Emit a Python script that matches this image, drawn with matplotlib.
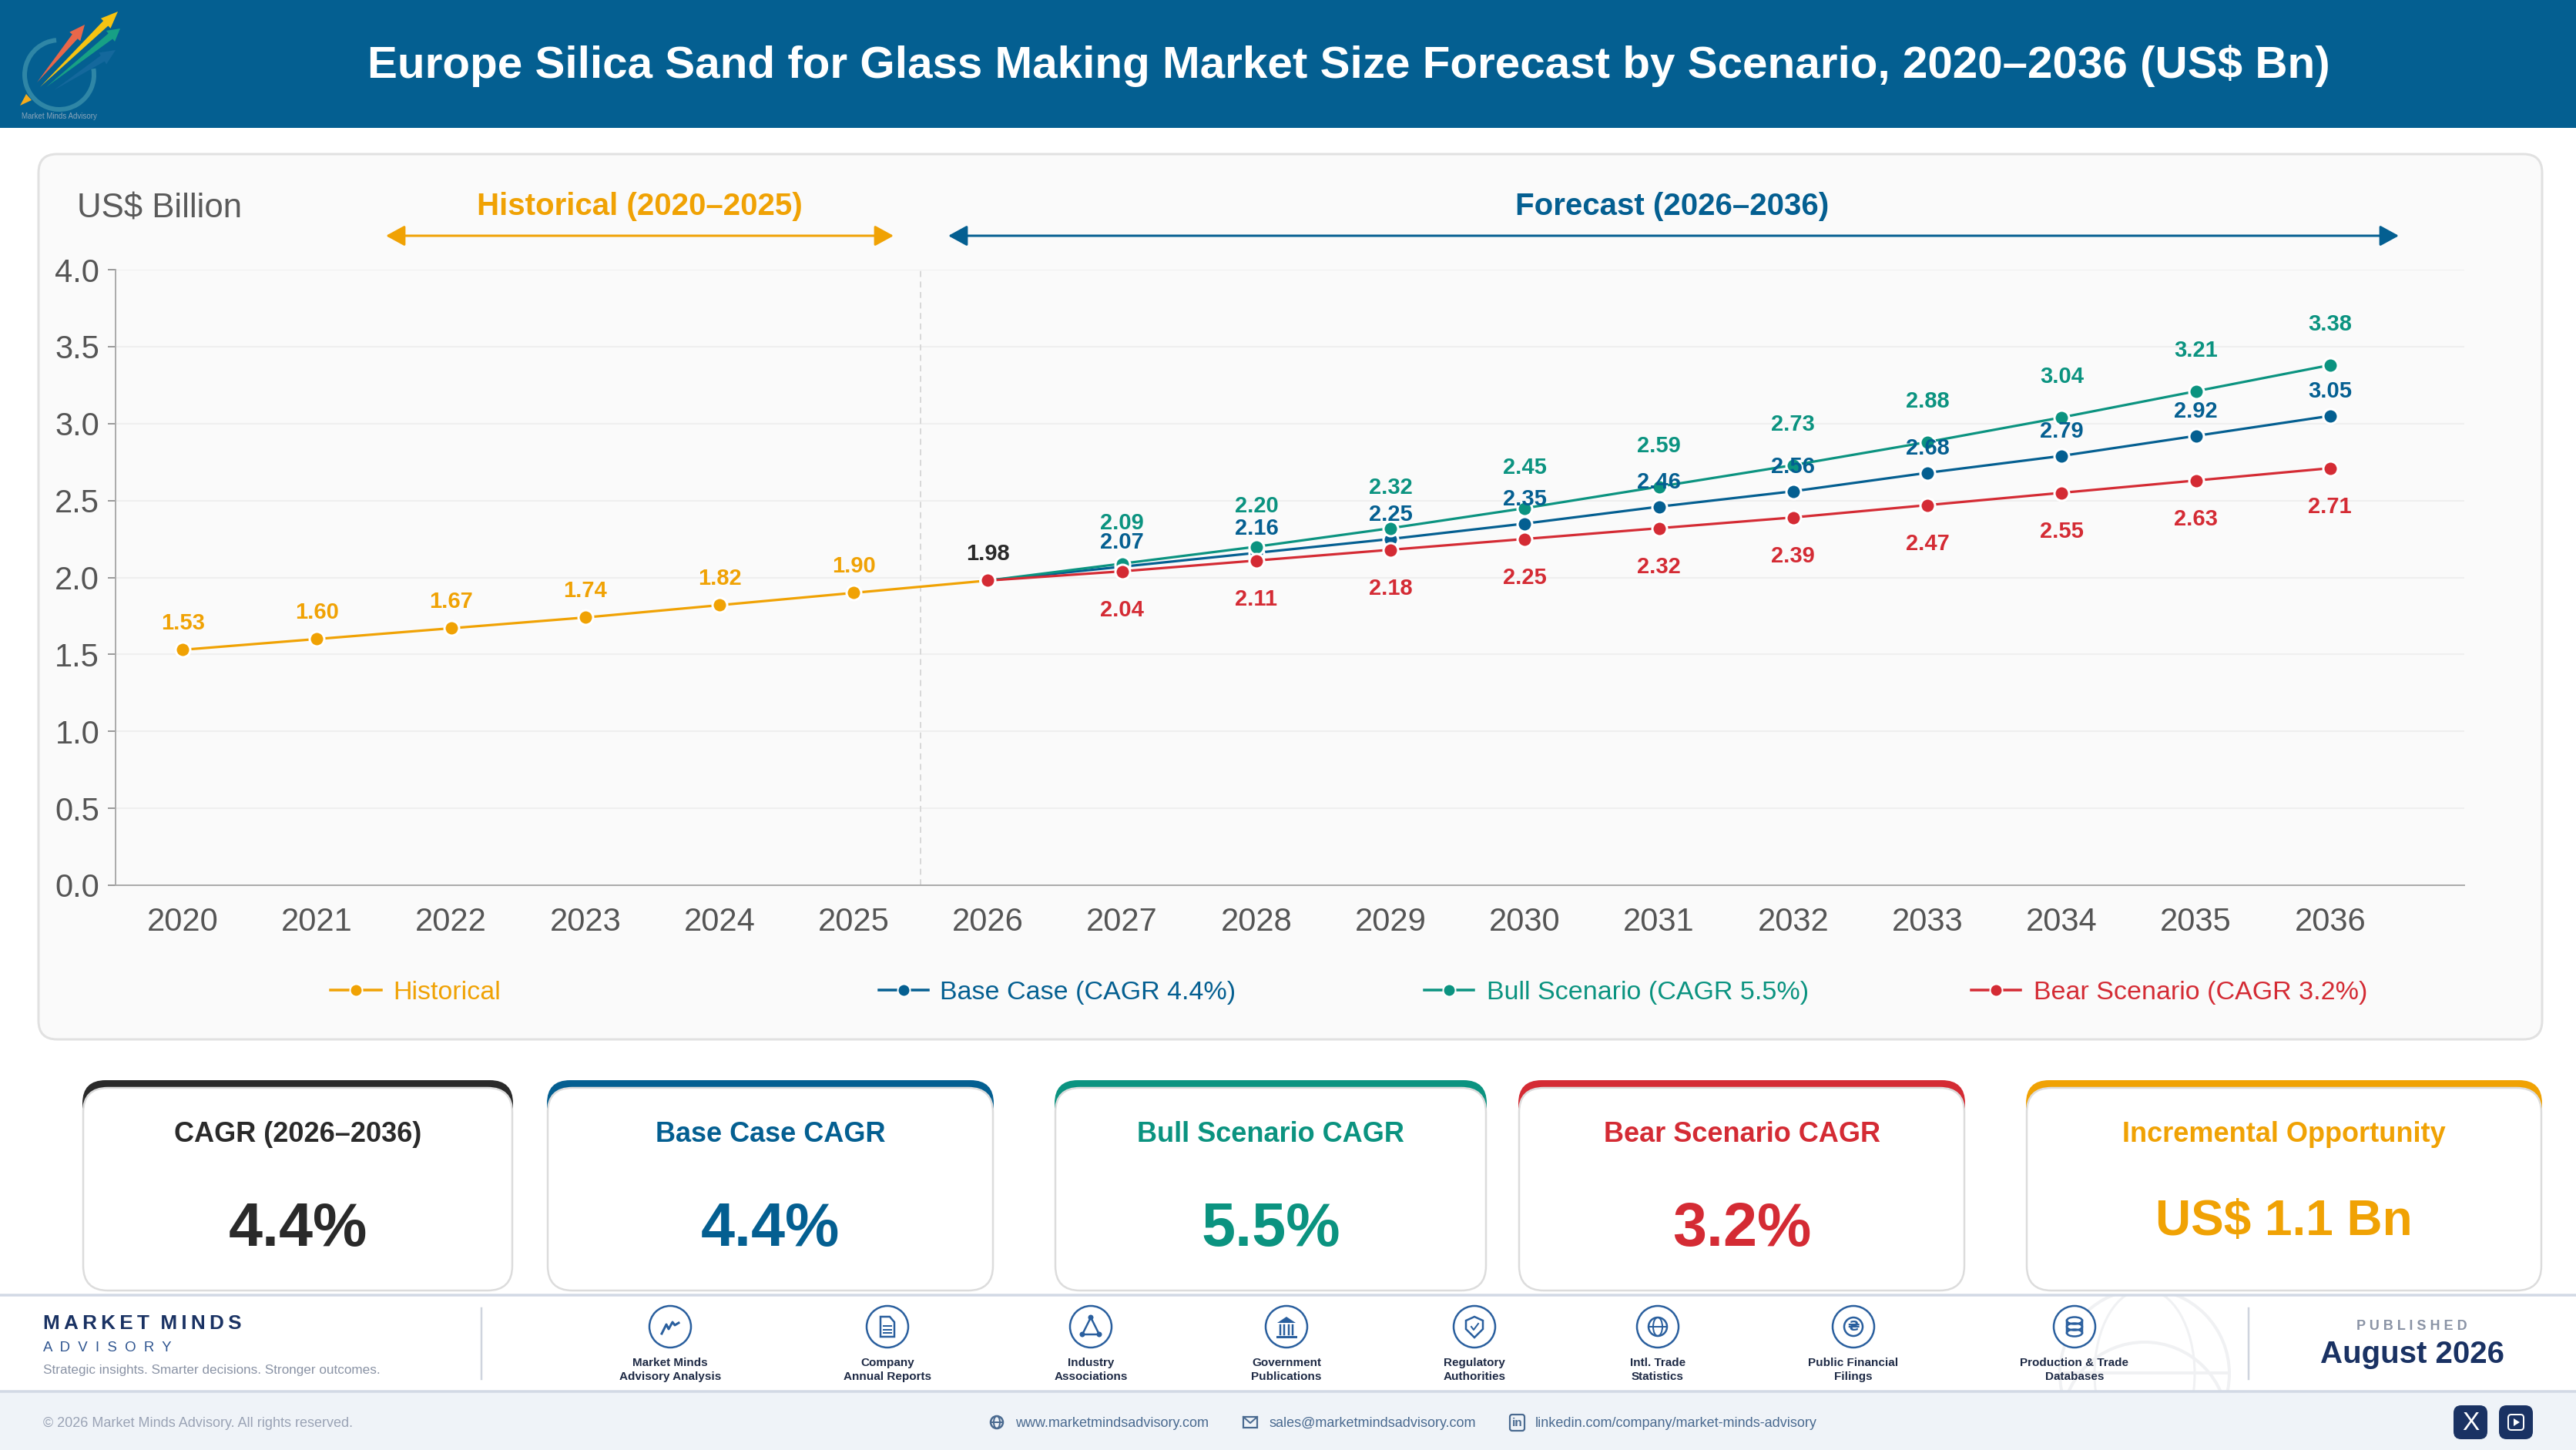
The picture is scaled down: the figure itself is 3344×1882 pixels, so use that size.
import matplotlib
matplotlib.use("Agg")
import numpy as np
import matplotlib.pyplot as plt
from matplotlib.patches import FancyBboxPatch, Circle, Polygon, Rectangle, Arc, Ellipse, FancyArrowPatch
from matplotlib.lines import Line2D

plt.rcParams['font.family'] = ['Liberation Sans', 'DejaVu Sans']

W, H = 3344, 1882

# data
years = [2020, 2021, 2022, 2023, 2024, 2025, 2026, 2027, 2028, 2029, 2030, 2031, 2032, 2033, 2034, 2035, 2036]
hist_vals = [1.53, 1.60, 1.67, 1.74, 1.82, 1.90, 1.98]
base_vals = [1.98, 2.07, 2.16, 2.25, 2.35, 2.46, 2.56, 2.68, 2.79, 2.92, 3.05]
bull_vals = [1.98, 2.09, 2.20, 2.32, 2.45, 2.59, 2.73, 2.88, 3.04, 3.21, 3.38]
bear_vals = [1.98, 2.04, 2.11, 2.18, 2.25, 2.32, 2.39, 2.47, 2.55, 2.63, 2.71]
y_ticks = [0.0, 0.5, 1.0, 1.5, 2.0, 2.5, 3.0, 3.5, 4.0]

card_labels = ["CAGR (2026–2036)", "Base Case CAGR", "Bull Scenario CAGR", "Bear Scenario CAGR", "Incremental Opportunity"]
card_values = ["4.4%", "4.4%", "5.5%", "3.2%", "US$ 1.1 Bn"]
source_labels = ["Market Minds\nAdvisory Analysis", "Company\nAnnual Reports", "Industry\nAssociations", "Government\nPublications",
                 "Regulatory\nAuthorities", "Intl. Trade\nStatistics", "Public Financial\nFilings", "Production & Trade\nDatabases"]

ORANGE = "#f0a204"
BLUE = "#045f91"
GREEN = "#0b9380"
RED = "#d42b34"
BLACK = "#2a2a2a"
NAVY = "#1a3263"
ICON = "#2a5f9e"

fig = plt.figure(figsize=(W / 100, H / 100), dpi=100, facecolor="white")

# page layer, in pixels
bg = fig.add_axes([0, 0, 1, 1])
bg.set_xlim(0, W)
bg.set_ylim(H, 0)
bg.axis("off")


def px(p):
    return p * 0.72


def rbox(x0, y0, x1, y1, r, fc, ec="none", lw=0, z=1):
    p = FancyBboxPatch((x0 + r, y0 + r), x1 - x0 - 2 * r, y1 - y0 - 2 * r, boxstyle="round,pad=%f,rounding_size=%f" % (r, r),
                       fc=fc, ec=ec, lw=lw, zorder=z)
    bg.add_patch(p)
    return p


def tapered(x0, y0, x1, y1, w, hw, hl, color, z=3):
    d = np.array([x1 - x0, y1 - y0], float)
    n = np.hypot(*d)
    d = d / n
    t = np.array([-d[1], d[0]])
    a = np.array([x0, y0], float)
    b = np.array([x1, y1], float)
    neck = b - d * hl
    pts = [a, neck + t * w / 2, neck + t * hw / 2, b, neck - t * hw / 2, neck - t * w / 2]
    bg.add_patch(Polygon(pts, closed=True, fc=color, ec="none", zorder=z))


# header
bg.add_patch(Rectangle((0, 0), W, 166, fc=BLUE, ec="none", zorder=1))
bg.text(1751, 85, "Europe Silica Sand for Glass Making Market Size Forecast by Scenario, 2020–2036 (US$ Bn)",
        fontsize=42, fontweight="bold", color="white", ha="center", va="center", zorder=3)

# logo
bg.add_patch(Arc((77, 97), 90, 90, theta1=-10, theta2=265, ec="#2f86a6", lw=px(6), zorder=2))
tapered(70, 117, 150, 65, 9, 18, 20, "#14689c")
tapered(60, 113, 156, 37, 9, 18, 16, "#17a085")
tapered(48, 107, 110, 32, 9, 18, 20, "#e8674a")
tapered(52, 113, 153, 15, 9, 18, 22, "#f6c312")
bg.add_patch(Polygon([(26, 137), (41, 130), (34, 122)], closed=True, fc="#f5ab1b", ec="none", zorder=3))
bg.text(77, 151, "Market Minds Advisory", fontsize=7, color="#8ba6bb", ha="center", va="center", zorder=3)

# chart panel
rbox(50, 200, 3300, 1349, 24, "#fafafa", "#e1e1e1", px(3))
bg.text(100, 271, "US$ Billion", fontsize=31.5, color="#5a5a5a", ha="left", va="center", zorder=3)
bg.text(830, 268, "Historical (2020–2025)", fontsize=29, fontweight="bold", color=ORANGE, ha="center", va="center", zorder=3)
bg.text(2171, 268, "Forecast (2026–2036)", fontsize=29, fontweight="bold", color=BLUE, ha="center", va="center", zorder=3)
for x0, x1, c in [(501, 1160, ORANGE), (1231, 3114, BLUE)]:
    bg.add_patch(FancyArrowPatch((x0, 306), (x1, 306), arrowstyle="<|-|>,head_length=%f,head_width=%f" % (11.5, 6.3), mutation_scale=1.3,
                                 shrinkA=0, shrinkB=0, color=c, lw=px(3), zorder=3))

# legend
legend_items = [(429, 495, 510, "Historical", ORANGE), (1141, 1205, 1220, "Base Case (CAGR 4.4%)", BLUE),
                (1849, 1913, 1930, "Bull Scenario (CAGR 5.5%)", GREEN), (2559, 2623, 2640, "Bear Scenario (CAGR 3.2%)", RED)]
for x0, x1, xt, s, c in legend_items:
    bg.add_line(Line2D([x0, x1], [1285, 1285], color=c, lw=px(3.5), zorder=3))
    bg.add_line(Line2D([(x0 + x1) / 2], [1285], color=c, marker="o", ms=px(16), mec="white", mew=px(2), zorder=4))
    bg.text(xt, 1297, s, fontsize=24.5, color=c, ha="left", va="baseline", zorder=3)

# cards
card_x = [(107, 666), (710, 1290), (1369, 1930), (1971, 2551), (2630, 3300)]
card_c = [BLACK, BLUE, GREEN, RED, ORANGE]
for i in range(5):
    x0, x1 = card_x[i]
    rbox(x0, 1402, x1, 1500, 30, card_c[i], z=2)
    rbox(x0 + 1, 1412, x1 - 1, 1675, 32, "white", "#dcdcdc", px(2.5), z=3)
    xc = (x0 + x1) / 2
    bg.text(xc, 1473, card_labels[i], fontsize=26, fontweight="bold", color=card_c[i], ha="center", va="center", zorder=4)
    if i < 4:
        bg.text(xc, 1596, card_values[i], fontsize=57, fontweight="bold", color=card_c[i], ha="center", va="center", zorder=4)
    else:
        bg.text(xc, 1586, card_values[i], fontsize=46, fontweight="bold", color=card_c[i], ha="center", va="center", zorder=4)

# footer
bg.add_patch(Rectangle((0, 1806), W, 76, fc="#eff3f8", ec="none", zorder=1))
clip = Rectangle((0, 1681), W, 125, transform=bg.transData)
for g in [Circle((2784, 1783), 110, fc="none", ec="#f0f1f3", lw=px(4), zorder=1),
          Ellipse((2784, 1783), 130, 220, fc="none", ec="#f0f1f3", lw=px(3), zorder=1),
          Circle((2784, 1850), 108, fc="none", ec="#f0f1f3", lw=px(4), zorder=1)]:
    bg.add_patch(g)
    g.set_clip_path(clip)
bg.add_line(Line2D([2674, 2894], [1782, 1782], color="#f0f1f3", lw=px(4), zorder=1))
for y in (1681, 1806):
    bg.add_line(Line2D([0, W], [y, y], color="#d2d9e5", lw=px(3.5), zorder=2))
for x in (625, 2919):
    bg.add_line(Line2D([x, x], [1698, 1790], color="#cfd4de", lw=px(2.5), zorder=2))

bg.text(56, 1718, "M\u2009A\u2009R\u2009K\u2009E\u2009T  M\u2009I\u2009N\u2009D\u2009S", fontsize=18.8, fontweight="bold", color=NAVY, ha="left", va="center", zorder=3)
bg.text(56, 1750, "A  D  V  I  S  O  R  Y", fontsize=13.4, color="#2f5590", ha="left", va="center", zorder=3)
bg.text(56, 1778, "Strategic insights. Smarter decisions. Stronger outcomes.", fontsize=12.3, color="#8a93a5", ha="left", va="center", zorder=3)
bg.text(3131, 1721, "P U B L I S H E D", fontsize=13, fontweight="bold", color="#8a93a5", ha="center", va="center", zorder=3)
bg.text(3131, 1758, "August 2026", fontsize=29, fontweight="bold", color=NAVY, ha="center", va="center", zorder=3)


def icon_chart(x, y):
    bg.add_line(Line2D([x - 11, x - 5, x - 2, x + 3, x + 6, x + 11], [y + 9, y - 3, y + 3, y - 6, y - 2, y - 5], color=ICON, lw=px(3), zorder=4))


def icon_doc(x, y):
    bg.add_patch(Polygon([(x - 9, y - 13), (x + 3, y - 13), (x + 9, y - 6), (x + 9, y + 13), (x - 9, y + 13)], closed=True, fc="none", ec=ICON, lw=px(2.5), zorder=4))
    for d in (-1, 4, 8):
        bg.add_line(Line2D([x - 5, x + 5], [y + d, y + d], color=ICON, lw=px(2), zorder=4))


def icon_tri(x, y):
    pts = [(x, y - 12), (x - 11, y + 10), (x + 11, y + 10)]
    bg.add_patch(Polygon(pts, closed=True, fc="none", ec=ICON, lw=px(2.5), zorder=4))
    for p in pts:
        bg.add_patch(Circle(p, 3.5, fc=ICON, ec="none", zorder=5))


def icon_bank(x, y):
    bg.add_patch(Polygon([(x - 12, y - 5), (x, y - 13), (x + 12, y - 5)], closed=True, fc=ICON, ec="none", zorder=4))
    for d in (-8, -3, 3, 8):
        bg.add_line(Line2D([x + d, x + d], [y - 2, y + 10], color=ICON, lw=px(2.5), zorder=4))
    bg.add_line(Line2D([x - 12, x + 12], [y + 13, y + 13], color=ICON, lw=px(3), zorder=4))


def icon_shield(x, y):
    bg.add_patch(Polygon([(x, y - 13), (x + 11, y - 8), (x + 11, y + 3), (x, y + 14), (x - 11, y + 3), (x - 11, y - 8)], closed=True, fc="none", ec=ICON, lw=px(2.5), zorder=4))
    bg.add_line(Line2D([x - 4, x - 1, x + 5], [y, y + 4, y - 4], color=ICON, lw=px(2), zorder=4))


def icon_globe(x, y, r=12, c=ICON):
    bg.add_patch(Circle((x, y), r, fc="none", ec=c, lw=px(2.5), zorder=4))
    bg.add_patch(Ellipse((x, y), r, 2 * r, fc="none", ec=c, lw=px(2), zorder=4))
    bg.add_line(Line2D([x - r, x + r], [y, y], color=c, lw=px(2), zorder=4))


def icon_coin(x, y):
    bg.add_patch(Circle((x, y), 12, fc="none", ec=ICON, lw=px(2.5), zorder=4))
    bg.text(x, y, "₴", fontsize=13, fontweight="bold", color=ICON, ha="center", va="center", zorder=4, family=["DejaVu Sans"])


def icon_db(x, y):
    for d in (-8, 0, 8):
        bg.add_patch(Ellipse((x, y + d), 20, 9, fc="none", ec=ICON, lw=px(2.5), zorder=4))
    bg.add_line(Line2D([x - 10, x - 10], [y - 8, y + 8], color=ICON, lw=px(2.5), zorder=4))
    bg.add_line(Line2D([x + 10, x + 10], [y - 8, y + 8], color=ICON, lw=px(2.5), zorder=4))


source_x = [870, 1152, 1416, 1670, 1914, 2152, 2406, 2693]
source_icons = [icon_chart, icon_doc, icon_tri, icon_bank, icon_shield, icon_globe, icon_coin, icon_db]
for x, s, ic in zip(source_x, source_labels, source_icons):
    bg.add_patch(Circle((x, 1722), 27, fc="white", ec=ICON, lw=px(2.5), zorder=3))
    ic(x, 1722)
    a, b = s.split("\n")
    bg.text(x, 1769, a, fontsize=11, fontweight="bold", color="#1e2a45", ha="center", va="center", zorder=3)
    bg.text(x, 1787, b, fontsize=11, fontweight="bold", color="#1e2a45", ha="center", va="center", zorder=3)

# bottom strip
LINK = "#4a6a90"
bg.text(56, 1848, "© 2026 Market Minds Advisory. All rights reserved.", fontsize=13, color="#9aa3b5", ha="left", va="center", zorder=3)
icon_globe(1294, 1846, 8, LINK)
bg.text(1318, 1848, "www.marketmindsadvisory.com", fontsize=13, color=LINK, ha="left", va="center", zorder=3)
bg.add_patch(Rectangle((1614, 1839), 18, 14, fc="none", ec=LINK, lw=px(2.2), zorder=4))
bg.add_line(Line2D([1614, 1623, 1632], [1839, 1847, 1839], color=LINK, lw=px(2), zorder=4))
bg.text(1647, 1848, "sales@marketmindsadvisory.com", fontsize=13, color=LINK, ha="left", va="center", zorder=3)
rbox(1960, 1836, 1979, 1857, 3, "none", LINK, px(2.2), z=4)
bg.text(1969.5, 1847, "in", fontsize=11, fontweight="bold", color=LINK, ha="center", va="center", zorder=5)
bg.text(1993, 1848, "linkedin.com/company/market-minds-advisory", fontsize=13, color=LINK, ha="left", va="center", zorder=3)
rbox(3185, 1824, 3229, 1868, 10, NAVY, z=3)
rbox(3244, 1824, 3288, 1868, 10, NAVY, z=3)
bg.text(3207, 1847, "X", fontsize=24, color="white", ha="center", va="center", zorder=4)
rbox(3256, 1836, 3276, 1856, 4, "none", "white", px(2), z=4)
bg.add_patch(Polygon([(3263, 1841), (3263, 1851), (3271, 1846)], closed=True, fc="white", ec="none", zorder=5))

# the chart itself
ax = fig.add_axes([150 / W, 1 - 1149 / H, (3199 - 150) / W, (1149 - 350) / H])
ax.patch.set_alpha(0)
xs = np.arange(len(years))
ax.set_xlim(-0.5, 17)
ax.set_ylim(0, 4)
ax.set_yticks(y_ticks)
ax.set_yticklabels(["%.1f" % v for v in y_ticks])
ax.set_xticks(xs)
ax.set_xticklabels(years)
ax.tick_params(axis="y", labelsize=30, labelcolor="#555555", color="#999999", length=7, width=1.4, pad=8)
ax.tick_params(axis="x", labelsize=30, labelcolor="#555555", length=0, pad=20)
ax.grid(axis="y", color="#efefef", lw=1.5)
ax.set_axisbelow(True)
for s in ("top", "right"):
    ax.spines[s].set_visible(False)
for s in ("left", "bottom"):
    ax.spines[s].set_color("#aaaaaa")
    ax.spines[s].set_linewidth(1.4)
ax.axvline(5.5, color="#d8d8d8", lw=1.4, ls=(0, (4, 3)), zorder=1)


def series(xv, yv, c, z):
    ax.plot(xv, yv, color=c, lw=2.3, marker="o", ms=px(19), mec="white", mew=px(3), zorder=z, clip_on=False)


series(xs[:7], hist_vals, ORANGE, 3)
series(xs[6:], base_vals, BLUE, 4)
series(xs[6:], bull_vals, GREEN, 5)
series(xs[6:], bear_vals, RED, 6)


def labels(xv, yv, c, off):
    for a, b in zip(xv, yv):
        ax.annotate("%.2f" % b, (a, b), xytext=(0, off * 0.72), textcoords="offset points", ha="center", va="center",
                    fontsize=21, fontweight="bold", color=c, zorder=8)


labels(xs[:6], hist_vals[:6], ORANGE, 34)
labels([6], [hist_vals[6]], BLACK, 34)
labels(xs[7:], bull_vals[1:], GREEN, 53)
labels(xs[7:], base_vals[1:], BLUE, 32)
labels(xs[7:], bear_vals[1:], RED, -50)

fig.savefig("out.png", dpi=100, facecolor="white")
